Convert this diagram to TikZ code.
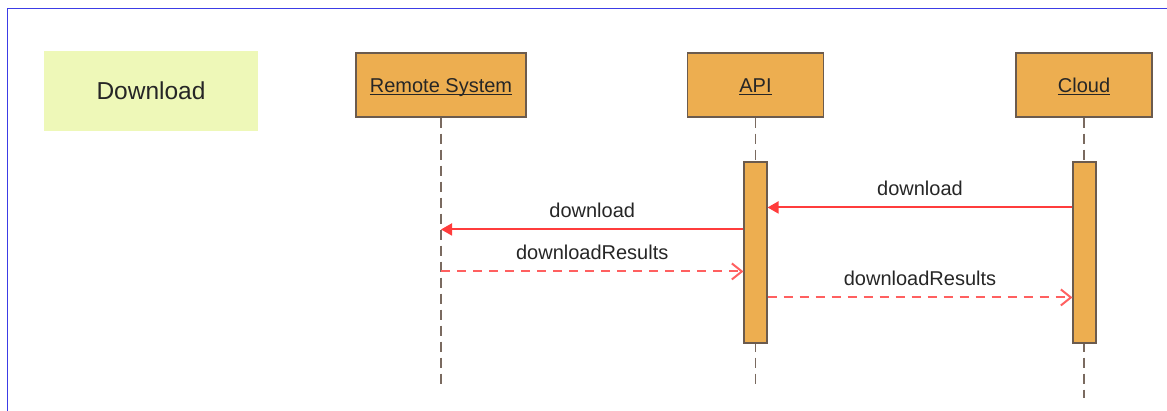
\documentclass[tikz,border=0pt]{standalone}
\usepackage{fontspec}
\setmainfont{Liberation Sans}
\usetikzlibrary{arrows.meta, calc, positioning}

\definecolor{frameblue}{HTML}{3C3CE6}
\definecolor{titlefill}{HTML}{EEF8B8}
\definecolor{lifefill}{HTML}{EDAE50}
\definecolor{lifeedge}{HTML}{6B5B4E}
\definecolor{lifedash}{HTML}{7A6A60}
\definecolor{callred}{HTML}{FF3C3C}
\definecolor{replyred}{HTML}{FF6060}
\definecolor{txt}{HTML}{262626}

\begin{document}
\begin{tikzpicture}[x=1pt, y=-1pt,
    actor/.style={draw=lifeedge, line width=1.1pt, fill=lifefill, minimum height=64pt,
        inner sep=0pt, text height=15pt, text depth=0pt, text=txt,
        font=\fontsize{20}{24}\selectfont},
    activation/.style={draw=lifeedge, line width=1.1pt, fill=lifefill, minimum width=23pt,
        minimum height=181pt, inner sep=0pt},
    lifeline/.style={draw=lifedash, line width=1.1pt, dash pattern=on 10pt off 6pt},
    callmsg/.style={color=callred, line width=2pt, -{Triangle[length=11pt,width=12pt]}},
    replymsg/.style={color=replyred, line width=2pt, dash pattern=on 9pt off 7pt,
        -{Straight Barb[length=10pt,width=16pt]}},
    msglabel/.style={above=11pt, inner sep=0pt, text=txt, font=\fontsize{20}{24}\selectfont}]
\useasboundingbox (0,0) rectangle (1167,410);

% frame, only top and left edges show
\draw[frameblue, line width=1.5pt] (7.5,412) -- (7.5,8.5) -- (1169,8.5);

% title
\node[fill=titlefill, minimum width=214pt, minimum height=80pt, inner sep=0pt,
    text=txt, font=\fontsize{24.5}{28}\selectfont] (title) at (151,91) {Download};

% participants
\foreach \name/\x/\w/\txt in {remote/441/170/Remote System, api/755.5/136/API, cloud/1084/136/Cloud} {
    \node[actor, minimum width=\w pt] (\name) at (\x,85) {\underline{\smash{\txt}}};
}

% lifelines
\coordinate (remote-end) at (441,385);
\coordinate (api-end) at (755.5,385);
\coordinate (cloud-end) at (1084,398);
\draw[lifeline] (remote.south) -- (remote-end);
\draw[lifeline] (api.south) -- (api-end);
\draw[lifeline] (cloud.south) -- (cloud-end);

% activations
\node[activation] (api-act) at (755.5,252.5) {};
\node[activation] (cloud-act) at (1084.5,252.5) {};

% message heights on the activations
\coordinate (m1) at ($(cloud-act.north west)+(0,46)$);
\coordinate (m2) at ($(api-act.north west)+(0,68)$);
\coordinate (m3) at ($(api-act.north west)+(0,110)$);
\coordinate (m4) at ($(api-act.north east)+(0,136)$);

% messages
\draw[callmsg] (m1) -- node[msglabel] {download} (api-act.east |- m1);
\draw[callmsg] (m2) -- node[msglabel] {download} (remote-end |- m2);
\draw[replymsg] (remote-end |- m3) -- node[msglabel] {downloadResults} (m3);
\draw[replymsg] (m4) -- node[msglabel] {downloadResults} (cloud-act.west |- m4);
\end{tikzpicture}
\end{document}
